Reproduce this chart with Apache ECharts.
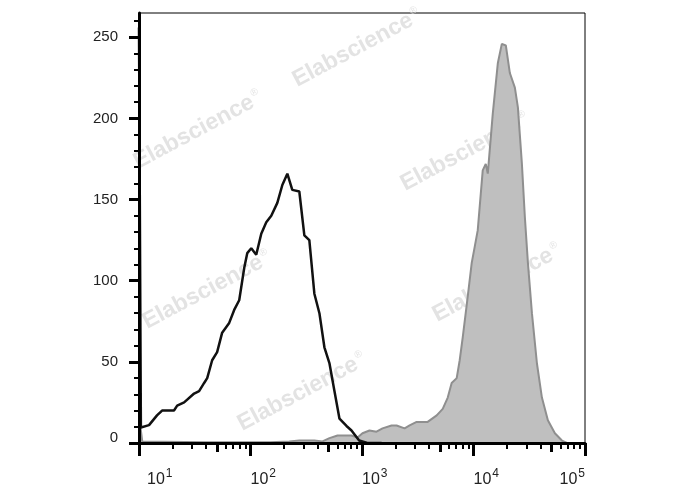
<!DOCTYPE html>
<html><head><meta charset="utf-8">
<script src="https://cdn.jsdelivr.net/npm/echarts@6/dist/echarts.min.js"></script>
<style>html,body{margin:0;padding:0;background:#fff}#c{width:688px;height:490px}</style>
</head><body><div id="c"></div>
<script>
// Unstained / control histogram (black line)
const blackX = [10, 10.4, 12.3, 14.5, 16.1, 20.6, 22, 25.4, 31.2, 34.6, 38.4, 40.9, 45.3, 50.2, 55.7, 64.4, 71.4, 79.2, 87.9, 93.5, 101.6, 112.6, 124.9, 138.5, 153.6, 174, 193, 214, 237, 274, 304, 337, 374, 415, 460, 511, 566, 628, 726, 805, 943, 1115, 1500];
const blackY = [256, 9.6, 11, 17, 20, 20, 23, 25, 30.5, 32, 37, 40, 51, 56, 68, 74, 82, 88, 108, 117, 120, 116, 129, 136, 140, 148, 159, 166, 156, 155, 128, 125, 92, 80, 59, 49, 32, 15, 10.5, 7.7, 1.5, 0, 0];
// Stained histogram (grey filled)
const grayX = [10, 10.3, 10.7, 40, 150, 223, 274, 374, 442, 511, 603, 805, 912, 1010, 1167, 1349, 1528, 1841, 2042, 2410, 2673, 3090, 3882, 4677, 5297, 5875, 6370, 7067, 7520, 8000, 8870, 9640, 10260, 10910, 12100, 12880, 13430, 14890, 16520, 17950, 19500, 21190, 23500, 25000, 27170, 28900, 30760, 33420, 37070, 41070, 46450, 53700, 62100, 68860];
const grayY = [12, 10, 1, 0.5, 0.5, 1, 1.5, 1.5, 1, 3, 4.6, 4.6, 3.4, 6, 7.7, 7, 9, 10.8, 10.8, 9, 10.8, 13, 13, 17, 21, 28, 37, 40, 51, 65, 90, 111, 121, 131, 168, 172, 166, 203, 234, 246, 245, 228, 219, 207, 172, 139, 111, 80, 49, 28, 14, 6, 1.5, 0];
// Axis ticks
const xMajorTicks = [10, 100, 1000, 10000, 100000];
const xMidTicks = [50, 500, 5000, 50000];
const xMinorTicks = [20, 30, 40, 60, 70, 80, 90, 200, 300, 400, 600, 700, 800, 900, 2000, 3000, 4000, 6000, 7000, 8000, 9000, 20000, 30000, 40000, 60000, 70000, 80000, 90000];
const yMajorTicks = [0, 50, 100, 150, 200, 250];
const yMinorTicks = [10, 20, 30, 40, 60, 70, 80, 90, 110, 120, 130, 140, 160, 170, 180, 190, 210, 220, 230, 240, 260];
const watermarkText = 'Elabscience';

const FONT = '"Liberation Sans", Arial, sans-serif';
const chart = echarts.init(document.getElementById('c'));

const xMin = 10, xMax = 100000, yMin = 0, yMax = 265;

function hiddenX(ticks, len, w) {
  return {
    type: 'log', logBase: 10, min: xMin, max: xMax, position: 'bottom', z: 4,
    axisLine: { show: false, onZero: false },
    axisLabel: { show: false, customValues: ticks },
    axisTick: { show: true, inside: false, length: len, customValues: ticks, lineStyle: { color: '#000', width: w } },
    splitLine: { show: false }
  };
}

const wmPos = [[357, 48], [198, 130], [465, 152], [207, 290], [497, 283], [302, 392]];

chart.setOption({
  animation: false,
  backgroundColor: '#fff',
  grid: { left: 139, right: 103, top: 13, bottom: 47, show: true, borderColor: '#000', borderWidth: 1, containLabel: false },
  graphic: wmPos.map(p => ({
    type: 'text', x: p[0], y: p[1], rotation: 28 * Math.PI / 180, z: 0, silent: true,
    style: {
      text: '{m|' + watermarkText + '}{r|®}',
      align: 'center', verticalAlign: 'middle',
      rich: {
        m: { font: 'bold 23px ' + FONT, fill: '#e3e3e3' },
        r: { font: '10px ' + FONT, fill: '#e3e3e3', verticalAlign: 'top', padding: [0, 0, 12, 2] }
      }
    }
  })),
  xAxis: [
    {
      type: 'log', logBase: 10, min: xMin, max: xMax, position: 'bottom', z: 5,
      axisLine: { show: true, onZero: false, lineStyle: { color: '#000', width: 3 } },
      axisTick: { show: true, inside: false, length: 13, customValues: xMajorTicks, lineStyle: { color: '#000', width: 3 } },
      axisLabel: {
        show: true, margin: 25, customValues: xMajorTicks, align: 'left',
        alignMaxLabel: 'right',
        formatter: function (v) {
          const e = Math.round(Math.log10(v));
          return (v === xMin ? '{f|10}' : '{b|10}') + '{s|' + e + '}';
        },
        rich: {
          b: { fontSize: 16, fontFamily: FONT, color: '#222', lineHeight: 20, verticalAlign: 'bottom' },
          f: { fontSize: 16, fontFamily: FONT, color: '#222', lineHeight: 20, verticalAlign: 'bottom', padding: [0, 0, 0, 8] },
          s: { fontSize: 12, fontFamily: FONT, color: '#222', lineHeight: 20, verticalAlign: 'top', padding: [0, 0, 0, 1] }
        }
      },
      splitLine: { show: false }
    },
    hiddenX(xMidTicks, 9, 3),
    hiddenX(xMinorTicks, 6, 2)
  ],
  yAxis: [
    {
      type: 'value', min: yMin, max: yMax, position: 'left', z: 5,
      axisLine: { show: true, onZero: false, lineStyle: { color: '#000', width: 3 } },
      axisTick: { show: true, inside: false, length: 10, customValues: yMajorTicks, lineStyle: { color: '#000', width: 3 } },
      axisLabel: {
        show: true, margin: 21, customValues: yMajorTicks,
        formatter: function (v) { return v === 0 ? '{z|0}' : '{n|' + v + '}'; },
        rich: {
          n: { fontSize: 15, fontFamily: FONT, color: '#222' },
          z: { fontSize: 15, fontFamily: FONT, color: '#222', padding: [0, 0, 10, 0] }
        }
      },
      splitLine: { show: false }
    },
    {
      type: 'value', min: yMin, max: yMax, position: 'left', z: 4,
      axisLine: { show: false, onZero: false },
      axisTick: { show: true, inside: false, length: 5, customValues: yMinorTicks, lineStyle: { color: '#000', width: 2 } },
      axisLabel: { show: false, customValues: yMinorTicks },
      splitLine: { show: false }
    }
  ],
  series: [
    {
      type: 'line', xAxisIndex: 0, yAxisIndex: 0, symbol: 'none', smooth: false, z: 2,
      data: grayX.map((x, i) => [x, grayY[i]]),
      lineStyle: { color: '#8f8f8f', width: 2 },
      areaStyle: { color: '#bfbfbf', opacity: 1 }
    },
    {
      type: 'line', xAxisIndex: 0, yAxisIndex: 0, symbol: 'none', smooth: false, z: 3,
      data: blackX.map((x, i) => [x, blackY[i]]),
      lineStyle: { color: '#111', width: 2.5 }
    }
  ]
});
</script>
</body></html>
